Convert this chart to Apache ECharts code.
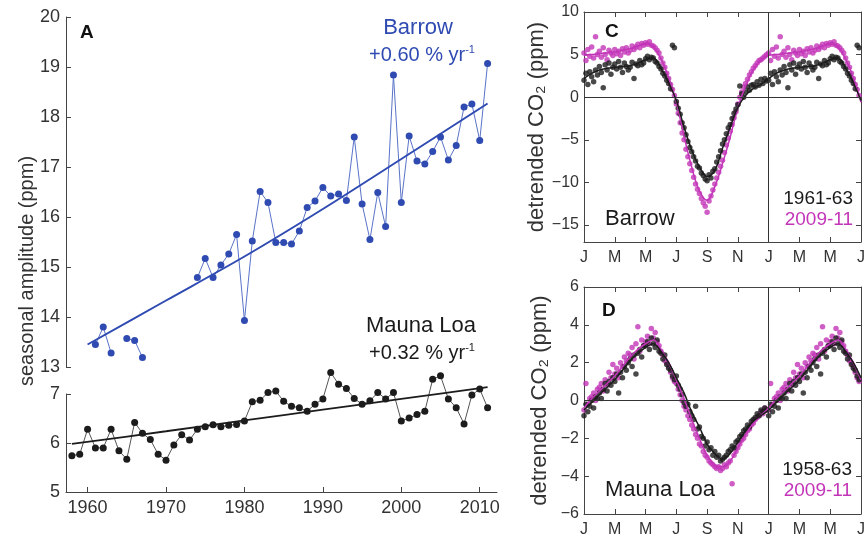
<!DOCTYPE html>
<html>
<head>
<meta charset="utf-8">
<script src="https://cdn.jsdelivr.net/npm/echarts@6/dist/echarts.min.js"></script>
<style>
  html, body { margin: 0; padding: 0; background: #fff; }
  #chart { width: 868px; height: 538px; }
</style>
</head>
<body>
<div id="chart"></div>
<script>
// ---- Panel A: annual seasonal amplitude ----
const years = [1958, 1959, 1960, 1961, 1962, 1963, 1964, 1965, 1966, 1967,
  1968, 1969, 1970, 1971, 1972, 1973, 1974, 1975, 1976, 1977,
  1978, 1979, 1980, 1981, 1982, 1983, 1984, 1985, 1986, 1987,
  1988, 1989, 1990, 1991, 1992, 1993, 1994, 1995, 1996, 1997,
  1998, 1999, 2000, 2001, 2002, 2003, 2004, 2005, 2006, 2007,
  2008, 2009, 2010, 2011];
const barrowAmp = [null, null, null, 13.45, 13.80, 13.28, null, 13.57, 13.53, 13.19,
  null, null, null, null, null, null, 14.79, 15.17, 14.79, 15.04,
  15.26, 15.65, 13.93, 15.52, 16.51, 16.29, 15.49, 15.49, 15.46, 15.72,
  16.19, 16.32, 16.59, 16.42, 16.46, 16.33, 17.60, 16.26, 15.55, 16.49,
  15.81, 18.84, 16.29, 17.62, 17.12, 17.06, 17.31, 17.60, 17.14, 17.43,
  18.20, 18.26, 17.53, 19.07];
const maunaLoaAmp = [5.74, 5.77, 6.28, 5.90, 5.90, 6.28, 5.84, 5.67, 6.42, 6.20,
  6.07, 5.77, 5.65, 5.96, 6.17, 6.06, 6.28, 6.33, 6.37, 6.33,
  6.36, 6.38, 6.45, 6.84, 6.87, 7.03, 7.06, 6.85, 6.75, 6.72,
  6.65, 6.79, 6.90, 7.44, 7.20, 7.11, 6.91, 6.79, 6.86, 7.03,
  6.90, 7.03, 6.45, 6.51, 6.58, 6.65, 7.30, 7.37, 6.90, 6.72,
  6.39, 6.98, 7.10, 6.72];
// fitted trends
const barrowTrendYears = [1960, 1970, 1980, 1990, 2000, 2011];
const barrowTrend = [13.45, 14.33, 15.21, 16.16, 17.16, 18.27];
const maunaTrendYears = [1958, 1970, 1980, 1990, 2000, 2011];
const maunaTrend = [5.98, 6.24, 6.46, 6.68, 6.90, 7.14];
const yearTicks = [1960, 1970, 1980, 1990, 2000, 2010];

// ---- Panels C, D: detrended seasonal cycle (month of year, 0 = 1 Jan) ----
const sampleMonths = [
  0, 0.125, 0.25, 0.375, 0.5, 0.625, 0.75, 0.875,
  1, 1.125, 1.25, 1.375, 1.5, 1.625, 1.75, 1.875,
  2, 2.125, 2.25, 2.375, 2.5, 2.625, 2.75, 2.875,
  3, 3.125, 3.25, 3.375, 3.5, 3.625, 3.75, 3.875,
  4, 4.125, 4.25, 4.375, 4.5, 4.625, 4.75, 4.875,
  5, 5.125, 5.25, 5.375, 5.5, 5.625, 5.75, 5.875,
  6, 6.125, 6.25, 6.375, 6.5, 6.625, 6.75, 6.875,
  7, 7.125, 7.25, 7.375, 7.5, 7.625, 7.75, 7.875,
  8, 8.125, 8.25, 8.375, 8.5, 8.625, 8.75, 8.875,
  9, 9.125, 9.25, 9.375, 9.5, 9.625, 9.75, 9.875,
  10, 10.125, 10.25, 10.375, 10.5, 10.625, 10.75, 10.875,
  11, 11.125, 11.25, 11.375, 11.5, 11.625, 11.75, 11.875];
const barrowEarly = [
  2.0, 2.8, 1.5, 3.0, 2.4, 1.8, 3.2, 2.6,
  3.6, 2.9, 1.1, 3.8, 3.2, 4.0, 2.7, 3.5,
  3.9, 3.3, 4.2, 3.5, 2.9, 4.0, 3.6, 3.2,
  3.5, 4.1, 2.2, 3.9, 3.7, 4.3, 3.8, 4.0,
  4.5, 4.8, 4.4, 4.7, 4.6, 4.2, 4.0, 3.6,
  3.3, 2.8, 2.5, 2.0, 1.6, 1.0, 6.1, 5.8,
  -0.5, -1.3, -2.0, -3.0, -3.6, -4.4, -5.2, -5.9,
  -6.4, -7.0, -7.5, -8.1, -8.3, -8.9, -9.2, -9.6,
  -9.8, -9.1, -9.5, -8.7, -8.4, -7.6, -7.0, -6.3,
  -5.5, -5.0, -4.3, -3.6, -3.2, -2.5, -1.9, -1.4,
  -0.9, 1.3, 0.4, 0.0, 0.6, 1.2, 0.8, 1.4,
  1.5, 1.2, 1.8, 1.4, 2.1, 1.6, 2.2, 1.9];
const barrowRecent = [
  5.2, 4.3, 5.6, 4.8, 5.9, 4.6, 7.1, 5.0,
  5.4, 4.7, 5.8, 5.0, 4.4, 5.5, 5.2, 4.9,
  5.6, 5.1, 5.4, 4.9, 5.7, 5.3, 5.8, 5.2,
  5.5, 6.0, 5.6, 5.9, 6.2, 5.8, 6.3, 6.1,
  6.4, 6.2, 6.5, 6.1, 6.0, 5.8, 5.5, 5.2,
  4.6, 4.0, 3.5, 2.8, 2.2, 1.5, 0.9, 0.2,
  -0.8, -1.9, -3.0, -4.2, -5.0, -6.1, -7.0, -7.8,
  -8.6, -9.4, -10.2, -10.8, -11.3, -11.9, -12.4, -12.8,
  -13.5, -12.2, -11.6, -10.9, -10.2, -9.5, -8.8, -8.1,
  -7.4, -6.5, -5.6, -4.8, -4.0, -3.2, -2.4, -1.7,
  -0.8, 0.0, 0.6, 1.2, 1.6, 2.1, 2.6, 3.0,
  3.4, 3.7, 4.0, 4.3, 4.4, 4.6, 4.8, 5.0];
const maunaEarly = [
  -0.8, -0.2, -0.6, -0.3, 0.0, -0.4, 0.2, 0.1,
  0.4, 0.1, 0.6, 0.9, 0.5, 1.0, 0.8, 1.2,
  1.0, 1.4, 0.4, 1.5, 1.2, 1.8, 1.6, 2.0,
  2.2, 1.8, 2.4, 1.4, 2.5, 2.7, 2.3, 2.9,
  2.9, 3.1, 2.7, 3.3, 3.0, 2.8, 3.2, 2.6,
  2.5, 2.2, 2.4, 1.9, 1.7, 1.6, 1.3, 1.1,
  1.3, 0.8, 0.6, 0.3, -0.1, -0.3, -0.2, -0.6,
  -0.8, -1.0, -0.3, -1.5, -1.4, -1.9, -2.0, -2.4,
  -2.2, -2.6, -2.5, -2.9, -2.7, -3.0, -2.9, -3.2,
  -3.1, -3.0, -2.9, -2.7, -2.6, -2.4, -2.5, -2.2,
  -2.1, -1.9, -1.8, -1.6, -1.5, -1.3, -1.4, -1.1,
  -1.0, -0.9, -0.7, -0.8, -0.5, -0.6, -0.4, -0.5];
const maunaRecent = [
  -0.5, 0.9, -0.2, 0.1, 0.2, 0.4, 0.0, 0.6,
  0.7, 0.9, 0.5, 1.1, 0.8, 1.5, 1.2, 1.9,
  1.4, 1.7, 1.2, 2.0, 1.8, 2.3, 2.1, 2.5,
  2.4, 2.8, 2.2, 3.0, 3.9, 2.6, 3.2, 2.9,
  3.1, 3.4, 3.0, 3.8, 3.3, 3.6, 3.1, 2.9,
  2.6, 2.4, 2.1, 2.0, 1.8, 1.5, 1.2, 1.0,
  0.9, 0.6, 0.3, 0.0, -0.3, -0.5, -0.8, -1.0,
  -1.3, -1.5, -1.8, -2.0, -2.3, -2.4, -2.7, -2.9,
  -3.0, -3.2, -3.3, -3.4, -3.5, -3.6, -3.5, -3.7,
  -3.6, -3.4, -3.5, -3.3, -3.2, -4.4, -2.9, -2.7,
  -2.5, -2.3, -2.1, -2.0, -1.8, -1.6, -1.5, -1.3,
  -1.2, -1.0, -0.9, -0.8, -0.6, -0.7, -0.4, -0.5];
// smoothed mean cycles, half-month steps
const curveMonths = [0, 0.5, 1, 1.5, 2, 2.5, 3, 3.5, 4, 4.5, 5, 5.5, 6,
  6.5, 7, 7.5, 8, 8.5, 9, 9.5, 10, 10.5, 11, 11.5, 12];
const barrowEarlyCurve = [2.2, 2.8, 3.2, 3.4, 3.5, 3.6, 3.7, 4.0, 4.4, 4.6, 3.4, 1.7, -0.4,
  -3.5, -6.2, -8.2, -9.3, -8.6, -6.0, -3.5, -1.2, 0.2, 1.0, 1.5, 2.2];
const barrowRecentCurve = [4.9, 5.0, 5.1, 5.2, 5.3, 5.5, 5.7, 6.0, 6.3, 5.9, 4.5, 2.3, -0.6,
  -4.6, -8.2, -11.0, -12.1, -10.5, -7.8, -4.7, -1.2, 1.3, 3.2, 4.3, 4.9];
const maunaEarlyCurve = [-0.5, -0.1, 0.3, 0.7, 1.1, 1.6, 2.1, 2.5, 2.8, 3.0, 2.6, 2.0, 1.2,
  0.4, -0.6, -1.4, -2.3, -2.8, -3.1, -2.8, -2.2, -1.6, -1.1, -0.8, -0.5];
const maunaRecentCurve = [-0.4, 0.1, 0.5, 0.9, 1.3, 1.8, 2.3, 2.7, 3.0, 3.2, 2.7, 2.0, 1.1,
  0.1, -1.0, -2.0, -2.9, -3.4, -3.5, -3.2, -2.5, -1.8, -1.2, -0.8, -0.4];
const monthTickLabels = ['J', 'M', 'M', 'J', 'S', 'N', 'J', 'M', 'M', 'J'];
const cycleTicksC = [-15, -10, -5, 0, 5, 10];

const FONT = "'Liberation Sans', Arial, Helvetica, sans-serif";
const BLUE = '#2f4bb2';
const MAGENTA = '#c335b8';
const DARK = '#1c1c1c';
const AXIS = '#444';

// pair each yearly value with its year
function yearPairs(xs, vals) {
  return xs.map((x, i) => [x, vals[i]]);
}
// one year of points, with Jan-Jul drawn again after the Jan divider
function cyclePairs(xs, vals) {
  const out = xs.map((x, i) => [x, vals[i]]);
  xs.forEach((x, i) => { if (x < 6) out.push([x + 12, vals[i]]); });
  return out;
}
function curvePairs(xs, vals) {
  const out = xs.map((x, i) => [x, vals[i]]);
  xs.forEach((x, i) => { if (x > 0 && x <= 6) out.push([x + 12, vals[i]]); });
  return out;
}
const minusFmt = v => String(v).replace('-', '\u2212');

const chart = echarts.init(document.getElementById('chart'), null, { renderer: 'canvas' });

const tickIn = { show: true, inside: true, length: 5, lineStyle: { color: AXIS, width: 1 } };
const lineAx = { show: true, onZero: false, lineStyle: { color: AXIS, width: 1 } };

function cycleXAxes(gridIndex) {
  return [
    { gridIndex, type: 'value', min: 0, max: 18, interval: 2, position: 'bottom',
      axisLine: lineAx, axisTick: tickIn, splitLine: { show: false },
      axisLabel: { fontFamily: FONT, fontSize: 16, color: '#333', margin: 8,
        formatter: v => monthTickLabels[Math.round(v / 2)] } },
    { gridIndex, type: 'value', min: 0, max: 18, interval: 2, position: 'top',
      axisLine: lineAx, axisTick: tickIn, splitLine: { show: false },
      axisLabel: { show: false } }
  ];
}
const co2Name = {
  name: 'detrended CO\u2082 (ppm)', nameLocation: 'middle', nameGap: 33,
  nameTextStyle: { fontFamily: FONT, fontSize: 22, color: '#333' }
};

const option = {
  backgroundColor: '#fff',
  animation: false,
  grid: [
    { left: 66, top: 17, width: 431, height: 350 },
    { left: 66, top: 394, width: 431, height: 98 },
    { left: 584, top: 12, width: 280, height: 230 },
    { left: 584, top: 287, width: 280, height: 228 }
  ],
  xAxis: [
    { gridIndex: 0, type: 'value', min: 1957.25, max: 2012.2, show: false },
    { gridIndex: 1, type: 'value', min: 1957.25, max: 2012.2,
      axisLine: lineAx, splitLine: { show: false },
      axisTick: Object.assign({}, tickIn, { customValues: yearTicks }),
      axisLabel: { fontFamily: FONT, fontSize: 18, color: '#333', margin: 7,
        customValues: yearTicks, formatter: v => String(v) } },
    ...cycleXAxes(2),
    ...cycleXAxes(3)
  ],
  yAxis: [
    { gridIndex: 0, type: 'value', min: 13, max: 20, interval: 1,
      axisLine: lineAx, axisTick: tickIn, splitLine: { show: false },
      axisLabel: { fontFamily: FONT, fontSize: 18, color: '#333', margin: 6 } },
    { gridIndex: 1, type: 'value', min: 5, max: 7, interval: 1,
      axisLine: lineAx, axisTick: tickIn, splitLine: { show: false },
      axisLabel: { fontFamily: FONT, fontSize: 18, color: '#333', margin: 6 } },
    Object.assign({ gridIndex: 2, type: 'value', min: -17, max: 10, position: 'left',
      axisLine: lineAx, splitLine: { show: false },
      axisTick: Object.assign({}, tickIn, { customValues: cycleTicksC }),
      axisLabel: { fontFamily: FONT, fontSize: 16, color: '#333', margin: 5,
        customValues: cycleTicksC, formatter: minusFmt } }, co2Name),
    { gridIndex: 2, type: 'value', min: -17, max: 10, position: 'right',
      axisLine: lineAx, splitLine: { show: false },
      axisTick: Object.assign({}, tickIn, { customValues: cycleTicksC }),
      axisLabel: { show: false } },
    Object.assign({ gridIndex: 3, type: 'value', min: -6, max: 6, interval: 2, position: 'left',
      axisLine: lineAx, axisTick: tickIn, splitLine: { show: false },
      axisLabel: { fontFamily: FONT, fontSize: 16, color: '#333', margin: 5,
        formatter: minusFmt } }, co2Name),
    { gridIndex: 3, type: 'value', min: -6, max: 6, interval: 2, position: 'right',
      axisLine: lineAx, axisTick: tickIn, splitLine: { show: false },
      axisLabel: { show: false } }
  ],
  series: [
    // Panel A, Barrow
    { type: 'line', xAxisIndex: 0, yAxisIndex: 0, data: yearPairs(years, barrowAmp),
      connectNulls: false, symbol: 'circle', symbolSize: 7, showAllSymbol: true, clip: false,
      lineStyle: { color: '#5a73c8', width: 1 }, itemStyle: { color: BLUE }, z: 3 },
    { type: 'line', xAxisIndex: 0, yAxisIndex: 0, data: yearPairs(barrowTrendYears, barrowTrend),
      symbol: 'none', smooth: 0.3, clip: false, lineStyle: { color: BLUE, width: 2 }, z: 4 },
    // Panel A, Mauna Loa
    { type: 'line', xAxisIndex: 1, yAxisIndex: 1, data: yearPairs(years, maunaLoaAmp),
      symbol: 'circle', symbolSize: 7, showAllSymbol: true, clip: false,
      lineStyle: { color: '#555', width: 1 }, itemStyle: { color: DARK }, z: 3 },
    { type: 'line', xAxisIndex: 1, yAxisIndex: 1, data: yearPairs(maunaTrendYears, maunaTrend),
      symbol: 'none', smooth: 0.3, clip: false, lineStyle: { color: DARK, width: 1.8 }, z: 4 },
    // Panel C, Barrow cycle
    { type: 'scatter', xAxisIndex: 2, yAxisIndex: 2, data: cyclePairs(sampleMonths, barrowRecent),
      symbolSize: 5.5, itemStyle: { color: MAGENTA }, z: 2,
      markLine: { silent: true, symbol: 'none', label: { show: false },
        lineStyle: { color: '#333', width: 1, type: 'solid' },
        data: [{ yAxis: 0 }, { xAxis: 12 }] } },
    { type: 'scatter', xAxisIndex: 2, yAxisIndex: 2, data: cyclePairs(sampleMonths, barrowEarly),
      symbolSize: 5.5, itemStyle: { color: DARK }, z: 3 },
    { type: 'line', xAxisIndex: 2, yAxisIndex: 2, data: curvePairs(curveMonths, barrowRecentCurve),
      symbol: 'none', smooth: 0.4, lineStyle: { color: MAGENTA, width: 1.5 }, z: 4 },
    { type: 'line', xAxisIndex: 2, yAxisIndex: 2, data: curvePairs(curveMonths, barrowEarlyCurve),
      symbol: 'none', smooth: 0.4, lineStyle: { color: DARK, width: 1.5 }, z: 4 },
    // Panel D, Mauna Loa cycle
    { type: 'scatter', xAxisIndex: 4, yAxisIndex: 4, data: cyclePairs(sampleMonths, maunaRecent),
      symbolSize: 5.5, itemStyle: { color: MAGENTA }, z: 2,
      markLine: { silent: true, symbol: 'none', label: { show: false },
        lineStyle: { color: '#333', width: 1, type: 'solid' },
        data: [{ yAxis: 0 }, { xAxis: 12 }] } },
    { type: 'scatter', xAxisIndex: 4, yAxisIndex: 4, data: cyclePairs(sampleMonths, maunaEarly),
      symbolSize: 5.5, itemStyle: { color: DARK }, z: 3 },
    { type: 'line', xAxisIndex: 4, yAxisIndex: 4, data: curvePairs(curveMonths, maunaRecentCurve),
      symbol: 'none', smooth: 0.4, lineStyle: { color: MAGENTA, width: 1.5 }, z: 4 },
    { type: 'line', xAxisIndex: 4, yAxisIndex: 4, data: curvePairs(curveMonths, maunaEarlyCurve),
      symbol: 'none', smooth: 0.4, lineStyle: { color: DARK, width: 1.5 }, z: 4 }
  ],
  graphic: [
    { type: 'text', x: 80, y: 33, style: { text: 'A', font: 'bold 19px ' + FONT, fill: '#111',
      align: 'left', verticalAlign: 'middle' } },
    { type: 'text', x: 418, y: 28, style: { text: 'Barrow', font: '22px ' + FONT, fill: BLUE,
      align: 'center', verticalAlign: 'middle' } },
    { type: 'text', x: 422, y: 55, style: { text: '{a|+0.60 % yr}{b|-1}', fill: BLUE,
      align: 'center', verticalAlign: 'middle',
      rich: { a: { fontFamily: FONT, fontSize: 20, fill: BLUE, lineHeight: 22 },
              b: { fontFamily: FONT, fontSize: 11, fill: BLUE, lineHeight: 22, verticalAlign: 'top' } } } },
    { type: 'text', x: 421, y: 326, style: { text: 'Mauna Loa', font: '22px ' + FONT, fill: '#1a1a1a',
      align: 'center', verticalAlign: 'middle' } },
    { type: 'text', x: 422, y: 353, style: { text: '{a|+0.32 % yr}{b|-1}', fill: '#1a1a1a',
      align: 'center', verticalAlign: 'middle',
      rich: { a: { fontFamily: FONT, fontSize: 20, fill: '#1a1a1a', lineHeight: 22 },
              b: { fontFamily: FONT, fontSize: 11, fill: '#1a1a1a', lineHeight: 22, verticalAlign: 'top' } } } },
    { type: 'text', x: 27, y: 271, rotation: Math.PI / 2,
      style: { text: 'seasonal amplitude (ppm)', font: '20px ' + FONT, fill: '#333',
      align: 'center', verticalAlign: 'middle' } },
    { type: 'text', x: 605, y: 32, style: { text: 'C', font: 'bold 19px ' + FONT, fill: '#111',
      align: 'left', verticalAlign: 'middle' } },
    { type: 'text', x: 605, y: 219, style: { text: 'Barrow', font: '22px ' + FONT, fill: '#1a1a1a',
      align: 'left', verticalAlign: 'middle' } },
    { type: 'text', x: 853, y: 199, style: { text: '1961-63', font: '19px ' + FONT, fill: '#1a1a1a',
      align: 'right', verticalAlign: 'middle' } },
    { type: 'text', x: 853, y: 220, style: { text: '2009-11', font: '19px ' + FONT, fill: MAGENTA,
      align: 'right', verticalAlign: 'middle' } },
    { type: 'text', x: 602, y: 311, style: { text: 'D', font: 'bold 19px ' + FONT, fill: '#111',
      align: 'left', verticalAlign: 'middle' } },
    { type: 'text', x: 605, y: 490, style: { text: 'Mauna Loa', font: '22px ' + FONT, fill: '#1a1a1a',
      align: 'left', verticalAlign: 'middle' } },
    { type: 'text', x: 852, y: 470, style: { text: '1958-63', font: '19px ' + FONT, fill: '#1a1a1a',
      align: 'right', verticalAlign: 'middle' } },
    { type: 'text', x: 852, y: 491, style: { text: '2009-11', font: '19px ' + FONT, fill: MAGENTA,
      align: 'right', verticalAlign: 'middle' } }
  ]
};

chart.setOption(option);
</script>
</body>
</html>
